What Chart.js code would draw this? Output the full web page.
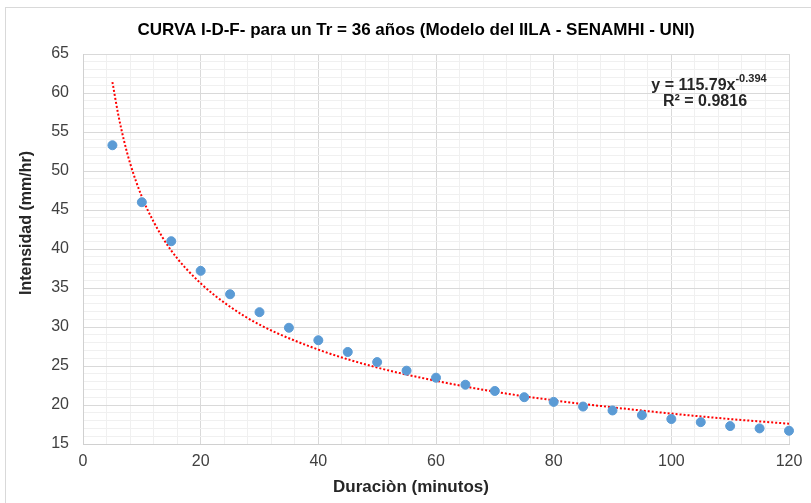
<!DOCTYPE html>
<html>
<head>
<meta charset="utf-8">
<script src="https://cdn.jsdelivr.net/npm/chart.js@4"></script>
<style>
  body { margin: 0; background: #fff; }
  #wrap { position: relative; width: 811px; height: 503px; }
  #frame { position: absolute; left: 5px; top: 7px; width: 820px; height: 510px; border: 1px solid #d9d9d9; }
  canvas { position: absolute; left: 0; top: 0; }
</style>
</head>
<body>
<div id="wrap">
  <div id="frame"></div>
  <canvas id="chart" width="811" height="503"></canvas>
</div>
<script>
// duraciones (min) e intensidades (mm/hr)
const duraciones = [5, 10, 15, 20, 25, 30, 35, 40, 45, 50, 55, 60, 65, 70, 75, 80, 85, 90, 95, 100, 105, 110, 115, 120];
const intensidades = [53.3, 46.0, 41.0, 37.2, 34.2, 31.9, 29.9, 28.3, 26.8, 25.5, 24.4, 23.5, 22.6, 21.8, 21.0, 20.4, 19.8, 19.3, 18.7, 18.2, 17.8, 17.3, 17.0, 16.7];

const tendX = [5, 6, 7, 8, 10, 12, 15, 20, 25, 30, 40, 50, 60, 70, 80, 90, 100, 110, 120];
const tendY = [61.4, 57.2, 53.8, 51.0, 46.7, 43.5, 39.8, 35.6, 32.6, 30.3, 27.1, 24.8, 23.1, 21.7, 20.6, 19.7, 18.9, 18.2, 17.6];

const titulo = 'CURVA I-D-F- para un Tr = 36 años (Modelo del IILA - SENAMHI - UNI)';
const tituloX = 'Duraciòn (minutos)';
const tituloY = 'Intensidad (mm/hr)';
const ecuacion = 'y = 115.79x';
const exponente = '-0.394';
const r2 = 'R² = 0.9816';

const FONT = "'Liberation Sans', Arial, sans-serif";

const puntos = duraciones.map((d, i) => ({ x: d, y: intensidades[i] }));
const tendencia = tendX.map((d, i) => ({ x: d, y: tendY[i] }));

const textos = {
    id: 'textos',
    afterDraw(chart) {
        const ctx = chart.ctx;
        ctx.save();
        ctx.fillStyle = '#000';
        ctx.textBaseline = 'middle';
        ctx.textAlign = 'center';
        ctx.font = 'bold 17px ' + FONT;
        ctx.fillText(titulo, 416, 30);

        // titulos de ejes
        ctx.fillStyle = '#262626';
        ctx.font = 'bold 17px ' + FONT;
        ctx.fillText(tituloX, 411, 487);
        ctx.save();
        ctx.translate(27, 223);
        ctx.rotate(-Math.PI / 2);
        ctx.font = 'bold 16px ' + FONT;
        ctx.fillText(tituloY, 0, 0);
        ctx.restore();

        // ecuacion con exponente
        ctx.font = 'bold 16px ' + FONT;
        const w1 = ctx.measureText(ecuacion).width;
        ctx.font = 'bold 11px ' + FONT;
        const w2 = ctx.measureText(exponente).width;
        const x0 = 709 - (w1 + w2) / 2;
        ctx.textAlign = 'left';
        ctx.font = 'bold 16px ' + FONT;
        ctx.fillText(ecuacion, x0, 86);
        ctx.font = 'bold 11px ' + FONT;
        ctx.fillText(exponente, x0 + w1, 79);
        ctx.textAlign = 'center';
        ctx.font = 'bold 16px ' + FONT;
        ctx.fillText(r2, 705, 102);
        ctx.restore();
    }
};

new Chart(document.getElementById('chart'), {
    type: 'scatter',
    data: {
        datasets: [{
            data: puntos,
            backgroundColor: '#5b9bd5',
            borderColor: '#5b9bd5',
            pointRadius: 4.5,
            pointHoverRadius: 4.5,
            clip: false,
            order: 1
        }, {
            data: tendencia,
            showLine: true,
            borderColor: '#ff0000',
            borderWidth: 2,
            borderDash: [2, 2],
            pointRadius: 0,
            cubicInterpolationMode: 'monotone',
            order: 2
        }]
    },
    options: {
        responsive: false,
        animation: false,
        layout: { padding: { top: 54, right: 22, bottom: 0, left: 0 } },
        plugins: { legend: { display: false }, tooltip: { enabled: false }, title: { display: false } },
        scales: {
            x: {
                type: 'linear',
                min: 0, max: 120,
                afterFit: s => { s.height = 59; },
                ticks: {
                    stepSize: 4,
                    autoSkip: false,
                    maxRotation: 0,
                    padding: 8,
                    color: '#404040',
                    font: { family: FONT, size: 16 },
                    callback: v => (v % 20 === 0 ? v : '')
                },
                grid: {
                    drawTicks: false,
                    color: c => (c.tick.value % 20 === 0 ? '#d9d9d9' : '#f0f0f0')
                },
                border: { color: '#d0d0d0' }
            },
            y: {
                min: 15, max: 65,
                afterFit: s => { s.width = 83; },
                ticks: {
                    stepSize: 1,
                    autoSkip: false,
                    padding: 14,
                    color: '#404040',
                    font: { family: FONT, size: 16 },
                    callback: v => (v % 5 === 0 ? v : '')
                },
                grid: {
                    drawTicks: false,
                    color: c => (c.tick.value % 5 === 0 ? '#d9d9d9' : '#f0f0f0')
                },
                border: { color: '#d0d0d0' }
            }
        }
    },
    plugins: [textos]
});
</script>
</body>
</html>
